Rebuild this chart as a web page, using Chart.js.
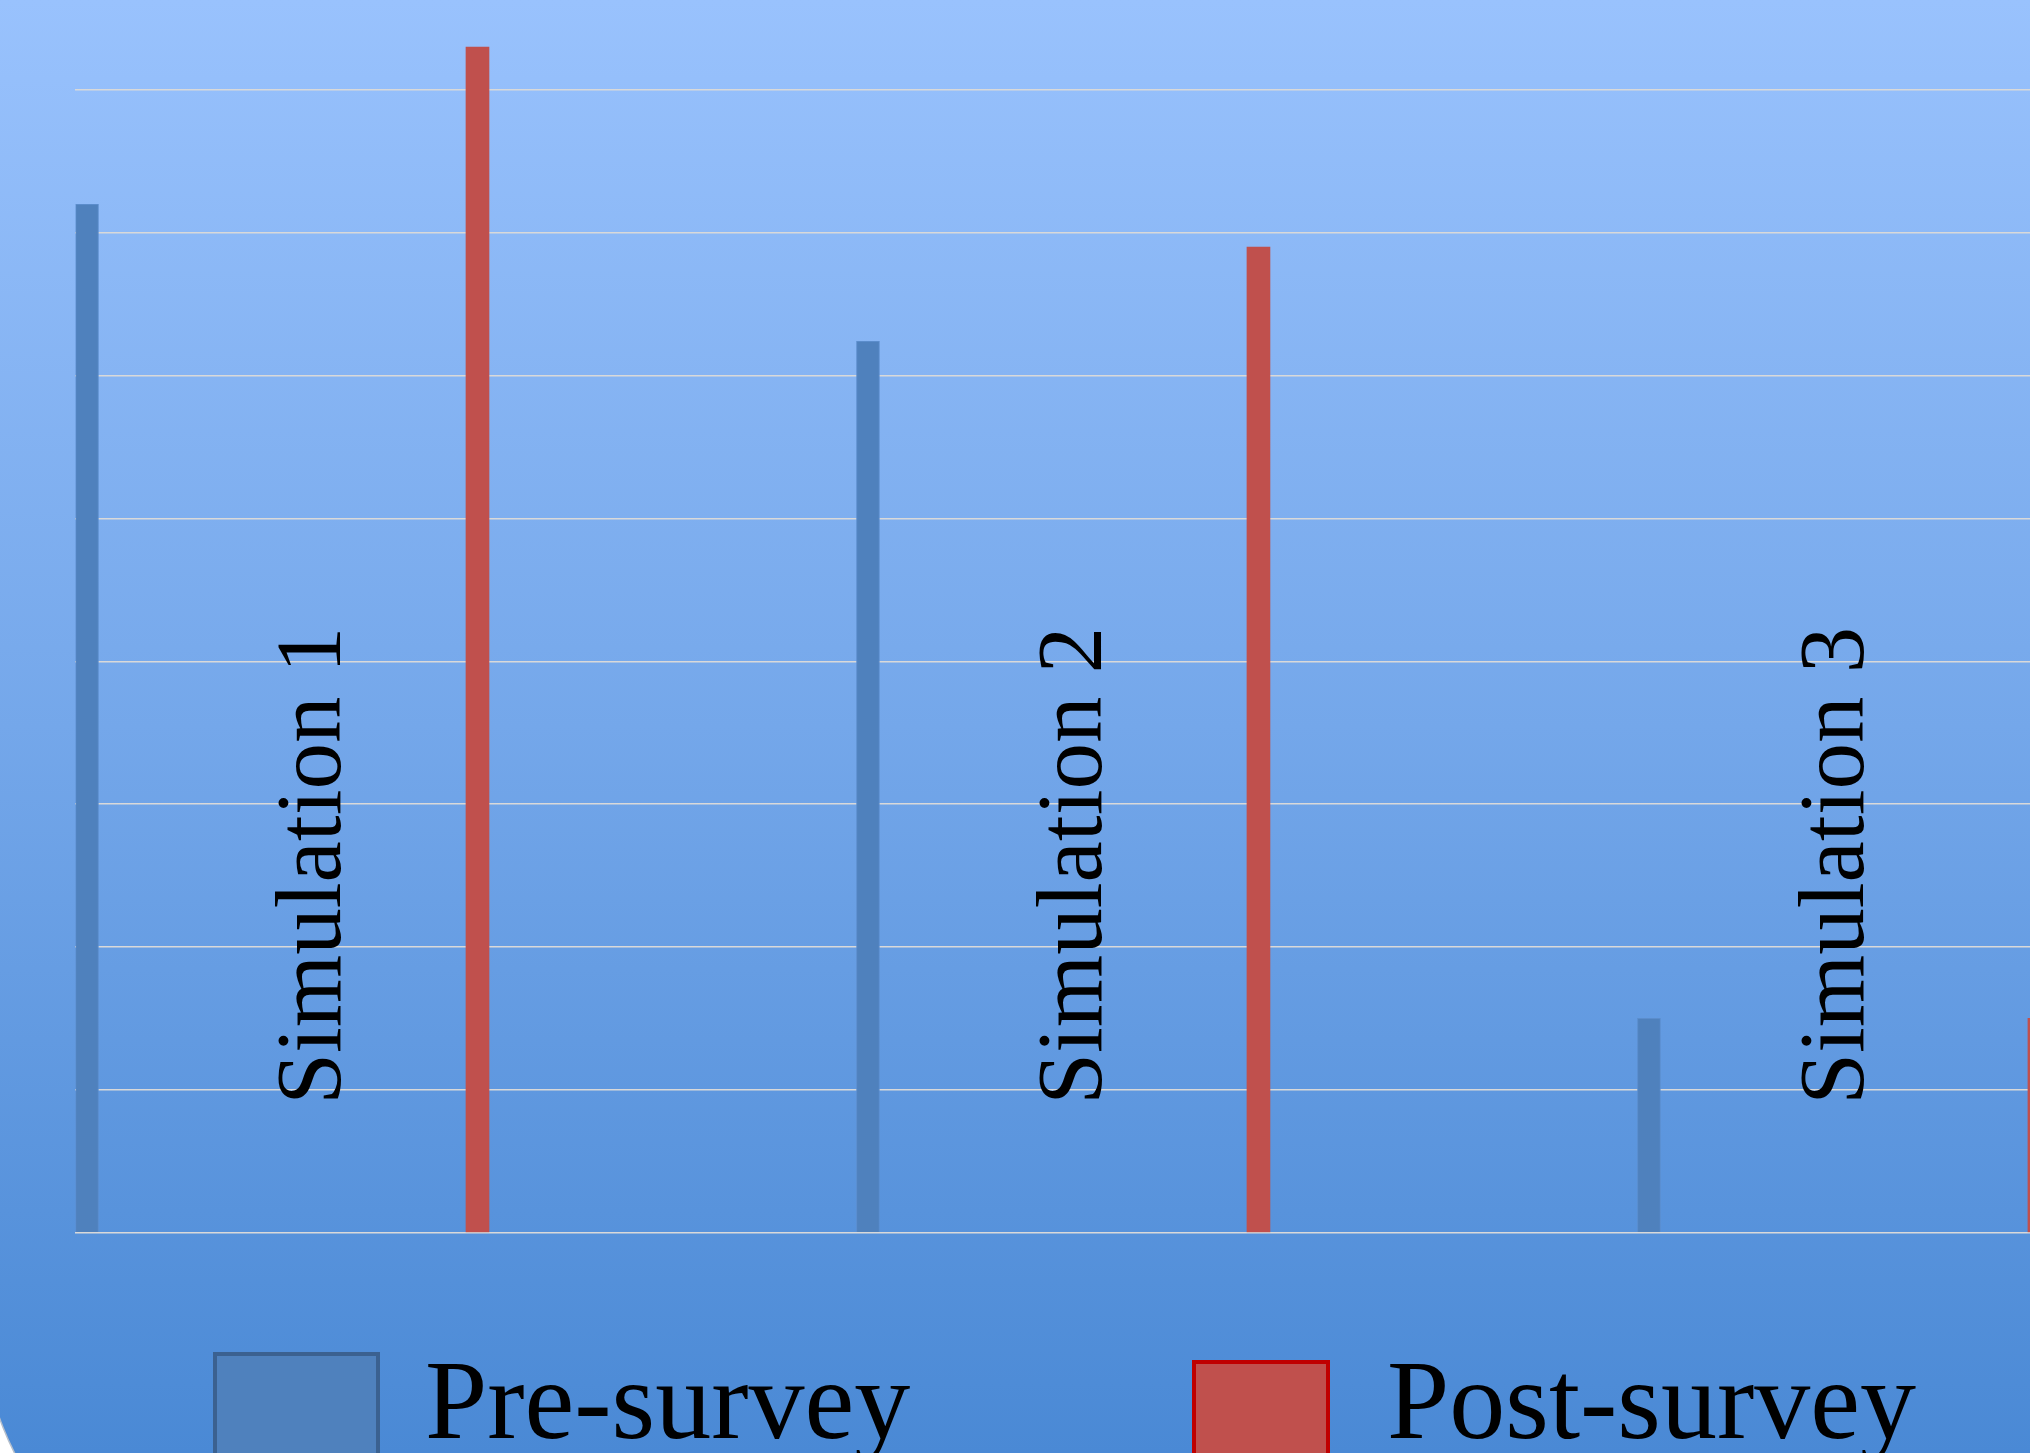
<!DOCTYPE html>
<html>
<head>
<meta charset="utf-8">
<script src="https://cdn.jsdelivr.net/npm/chart.js@4.4.1/dist/chart.umd.min.js"></script>
<style>
  html, body { margin: 0; padding: 0; overflow: hidden; background: #ffffff; }
  canvas { display: block; }
</style>
</head>
<body>
<canvas id="chart" width="2030" height="1453"></canvas>
<script>
// ---- data ----
const categories = ['Simulation 1', 'Simulation 2', 'Simulation 3'];
const seriesNames = ['Pre-survey', 'Post-survey'];
const preSurvey = [3.60, 3.12, 0.75];
const postSurvey = [4.15, 3.45, 0.75];
const gridStep = 0.5;

const toPoints = vals => vals.map((v, i) => ({ x: i, y: v }));

// background with rounded lower-left corner
const backgroundPlugin = {
  id: 'bgPanel',
  beforeDraw(chart) {
    const { ctx, width, height } = chart;
    ctx.save();
    ctx.fillStyle = '#ffffff';
    ctx.fillRect(0, 0, width, height);
    const left = -18, top = -20, right = width + 20, bottom = 1617, r = 300;
    ctx.beginPath();
    ctx.moveTo(left, top);
    ctx.lineTo(right, top);
    ctx.lineTo(right, bottom);
    ctx.lineTo(left + r, bottom);
    ctx.arcTo(left, bottom, left, bottom - r, r);
    ctx.closePath();
    const g = ctx.createLinearGradient(0, 0, 0, height);
    g.addColorStop(0, '#99c2fd');
    g.addColorStop(0.5, '#74a7ea');
    g.addColorStop(1, '#4a89d5');
    ctx.fillStyle = g;
    ctx.fill();
    ctx.strokeStyle = '#b5bfcc';
    ctx.lineWidth = 1.5;
    ctx.stroke();
    ctx.restore();
  }
};

// rotated category labels inside the plot area
const categoryLabelPlugin = {
  id: 'catLabels',
  afterDatasetsDraw(chart, args, opts) {
    const xs = chart.scales.x;
    const area = chart.chartArea;
    const ctx = chart.ctx;
    ctx.save();
    ctx.font = opts.font;
    ctx.fillStyle = opts.color;
    ctx.textAlign = 'left';
    ctx.textBaseline = 'alphabetic';
    chart.data.labels.forEach((label, i) => {
      const x = opts.shift + opts.spread * xs.getPixelForValue(i);
      const y = area.bottom - opts.offsetY;
      ctx.save();
      ctx.translate(x, y);
      ctx.rotate(-Math.PI / 2);
      ctx.fillText(label, 0, 0);
      ctx.restore();
    });
    ctx.restore();
  }
};

// legend with boxes at the bottom
const boxLegendPlugin = {
  id: 'boxLegend',
  afterDraw(chart, args, opts) {
    const ctx = chart.ctx;
    ctx.save();
    ctx.font = opts.font;
    ctx.textAlign = 'left';
    ctx.textBaseline = 'alphabetic';
    chart.data.datasets.forEach((ds, i) => {
      const it = opts.items[i];
      const bw = opts.boxBorder;
      ctx.fillStyle = ds.backgroundColor;
      ctx.fillRect(it.boxX + bw / 2, it.boxY + bw / 2, it.boxW - bw, it.boxH - bw);
      ctx.strokeStyle = it.stroke;
      ctx.lineWidth = bw;
      ctx.strokeRect(it.boxX + bw / 2, it.boxY + bw / 2, it.boxW - bw, it.boxH - bw);
      ctx.fillStyle = opts.color;
      ctx.fillText(ds.label, it.textX, opts.baseline);
    });
    ctx.restore();
  }
};

new Chart(document.getElementById('chart'), {
  type: 'bar',
  data: {
    labels: categories,
    datasets: [
      {
        label: seriesNames[0],
        data: toPoints(preSurvey),
        backgroundColor: '#4f81bd',
        borderColor: '#5b8dcc',
        borderWidth: 1
      },
      {
        label: seriesNames[1],
        data: toPoints(postSurvey),
        backgroundColor: '#c0504d',
        borderWidth: 0
      }
    ]
  },
  options: {
    responsive: false,
    animation: false,
    devicePixelRatio: 1,
    layout: { padding: { left: 75.4, right: 0, top: 4.26, bottom: 220.3 }, autoPadding: false },
    datasets: { bar: { categoryPercentage: 1, barPercentage: 1, maxBarThickness: 23 } },
    scales: {
      x: {
        type: 'linear',
        display: false,
        offset: false,
        grid: { offset: false },
        min: -0.26485,
        max: 2.2379,
        bounds: 'data',
        afterBuildTicks: (scale) => {
          scale.ticks = categories.map((_, i) => ({ value: i }));
        }
      },
      y: {
        type: 'linear',
        display: true,
        min: 0,
        max: 4.3,
        bounds: 'data',
        ticks: { display: false, stepSize: gridStep, includeBounds: false },
        afterBuildTicks: (scale) => {
          scale.ticks = scale.ticks.filter(t =>
            Math.abs(t.value / gridStep - Math.round(t.value / gridStep)) < 1e-9);
        },
        grid: { color: '#d9d9d9', lineWidth: 1.5, drawTicks: false },
        border: { display: false }
      }
    },
    plugins: {
      legend: { display: false },
      tooltip: { enabled: false },
      catLabels: {
        font: '93px "Liberation Serif", "Times New Roman", serif',
        color: '#000000',
        shift: 64.8,
        spread: 0.975,
        offsetY: 128
      },
      boxLegend: {
        font: '112px "Liberation Serif", "Times New Roman", serif',
        color: '#000000',
        baseline: 1438,
        boxBorder: 4,
        items: [
          { boxX: 213, boxY: 1352, boxW: 167, boxH: 160, stroke: '#3b6190', textX: 425 },
          { boxX: 1192, boxY: 1360, boxW: 138, boxH: 160, stroke: '#c00000', textX: 1387 }
        ]
      }
    }
  },
  plugins: [backgroundPlugin, categoryLabelPlugin, boxLegendPlugin]
});
</script>
</body>
</html>
